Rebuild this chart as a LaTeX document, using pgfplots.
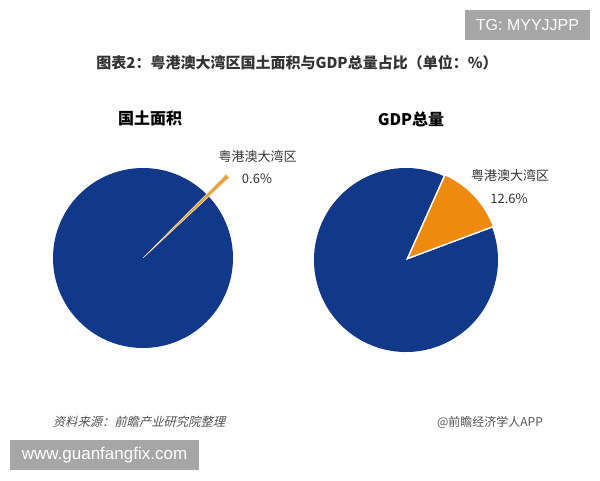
\documentclass[border=0pt]{standalone}
\usepackage{pgfplots}
\pgfplotsset{compat=1.18}
\usepackage{fontspec}
\setmainfont{Liberation Sans}
\newfontfamily\cjk{Noto Sans CJK SC}
\newfontfamily\cjkit{Noto Sans CJK SC}[FakeSlant=0.25]
\definecolor{pieblue}{HTML}{123889}
\definecolor{pieorange}{HTML}{EE8A10}
\definecolor{slicegold}{HTML}{E2A443}
\definecolor{boxgray}{HTML}{A6A6A6}
\definecolor{titlegray}{HTML}{333333}
\newcommand\fs[1]{\fontsize{#1}{#1}\selectfont}

% data (shares, %)
\def\landGBA{0.6}
\def\gdpGBA{12.6}
% angles
\pgfmathsetmacro\lmid{44.1}
\pgfmathsetmacro\lhalf{\landGBA*3.6/2}
\pgfmathsetmacro\ls{\lmid-\lhalf}
\pgfmathsetmacro\le{\lmid+\lhalf}
\pgfmathsetmacro\gs{20.5}
\pgfmathsetmacro\ge{\gs+\gdpGBA*3.6}
\pgfmathsetmacro\gm{(\gs+\ge)/2}

\begin{document}
\begin{tikzpicture}
\useasboundingbox (0,0) rectangle (600pt,480pt);
\begin{axis}[at={(0,0)}, anchor=south west, width=600pt, height=480pt,
  scale only axis, xmin=0, xmax=600, ymin=0, ymax=480, y dir=reverse,
  hide axis, clip=false]

% gray boxes
\fill[boxgray] (axis cs:465,10) rectangle (axis cs:590,40);
\node[text=white, font=\fs{16}] at (axis cs:527.5,25) {TG: MYYJJPP};
\fill[boxgray] (axis cs:10,440) rectangle (axis cs:199,470);
\node[text=white, font=\fs{17}] at (axis cs:104.5,455) {www.guanfangfix.com};

% title
\node[text=titlegray, font=\cjk\bfseries\fs{15}] at (axis cs:297,63) {图表2：粤港澳大湾区国土面积与GDP总量占比（单位：\%）};
\node[text=black, font=\cjk\bfseries\fs{16}] at (axis cs:150,118) {国土面积};
\node[text=black, font=\cjk\bfseries\fs{16}] at (axis cs:411,119) {GDP总量};

% left pie
\fill[pieblue] (axis cs:143,258) -- (axis cs:{143+90*cos(\le)},{258-90*sin(\le)})
  arc[start angle=\le, end angle=\ls+360, radius=90pt] -- cycle;
\filldraw[fill=slicegold, draw=white!70!slicegold, line width=0.5pt] (axis cs:143,258) -- (axis cs:{143+118*cos(\ls)},{258-118*sin(\ls)})
  arc[start angle=\ls, end angle=\le, radius=118pt] -- cycle;
\node[text=titlegray, font=\cjk\fs{13}] at (axis cs:257.5,156) {粤港澳大湾区};
\node[text=titlegray, font=\cjk\fs{13}] at (axis cs:257,179) {0.6\%};

% right pie
\fill[pieblue] (axis cs:406,260) -- (axis cs:{406+92*cos(\ge)},{260-92*sin(\ge)})
  arc[start angle=\ge, end angle=\gs+360, radius=92pt] -- cycle;
\filldraw[fill=pieorange, draw=white, line width=1.4pt] (axis cs:{406+2*cos(\gm)},{260-2*sin(\gm)}) -- (axis cs:{406+2*cos(\gm)+92*cos(\gs)},{260-2*sin(\gm)-92*sin(\gs)})
  arc[start angle=\gs, end angle=\ge, radius=92pt] -- cycle;
\node[text=titlegray, font=\cjk\fs{13}] at (axis cs:510,175) {粤港澳大湾区};
\node[text=titlegray, font=\cjk\fs{13}] at (axis cs:509,199) {12.6\%};

% footer
\node[text=titlegray!85, font=\cjkit\fs{12.3}] at (axis cs:139,422) {资料来源：前瞻产业研究院整理};
\node[text=titlegray!85, font=\cjk\fs{12}] at (axis cs:490,422) {@前瞻经济学人APP};
\end{axis}
\end{tikzpicture}
\end{document}
